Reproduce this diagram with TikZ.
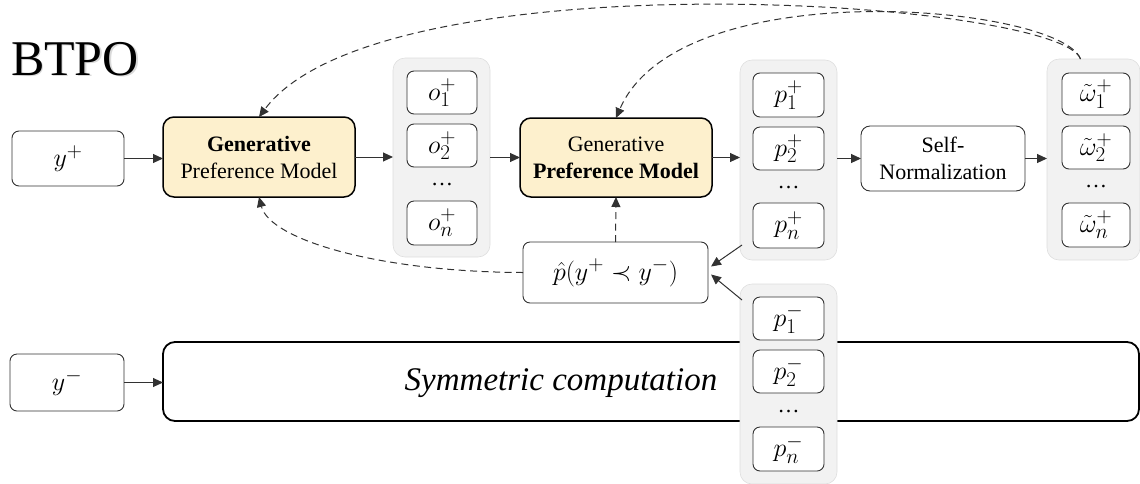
\RequirePackage{fix-cm}
\documentclass[tikz,border=0pt]{standalone}
\usepackage{fontspec}
\setmainfont{Liberation Serif}
\usetikzlibrary{arrows.meta,calc}
\DeclareMathSizes{26}{26}{21}{16}
\definecolor{gpmfill}{RGB}{253,240,205}
\definecolor{grpfill}{RGB}{242,242,242}
\definecolor{grpline}{RGB}{222,222,222}
\definecolor{boxline}{RGB}{50,50,50}
\newcommand\tfnt{\fontsize{22}{27}\selectfont}
\newcommand\mfnt{\fontsize{26}{30}\selectfont}
\begin{document}
\begin{tikzpicture}[x=1pt,y=-1pt,
  every node/.style={inner sep=0pt, outer sep=0pt},
  sz/.style 2 args={minimum width=#1pt, minimum height=#2pt},
  sbox/.style={draw=boxline, line width=0.9pt, rounded corners=7pt, fill=white, font=\mfnt},
  tbox/.style={draw=boxline, line width=0.9pt, rounded corners=9pt, fill=white, font=\tfnt, align=center},
  gpm/.style={draw=black, line width=1.5pt, rounded corners=11pt, fill=gpmfill, font=\tfnt, align=center},
  grp/.style={draw=grpline, line width=0.6pt, rounded corners=12pt, fill=grpfill},
  bigbox/.style={draw=black, line width=1.8pt, rounded corners=12pt, fill=white},
  dotsn/.style={font=\tfnt},
  arr/.style={draw=boxline, line width=1pt, -{Triangle[length=10pt,width=9pt]}},
  darr/.style={arr, dash pattern=on 7pt off 4.5pt}
]
\useasboundingbox (0,0) rectangle (1140,483);

% title
\node[anchor=base west, font=\fontsize{50}{55}\selectfont, text=gray!30] (titleshadow) at (12.5,76.5) {BTPO};
\node[anchor=base west, font=\fontsize{50}{55}\selectfont] (title) at (11,75) {BTPO};

% top row
\node[sbox, sz={112}{55}] (yp) at (68,158.5) {$y^+$};
\node[gpm, sz={192}{80}] (g1) at (259,157) {\textbf{Generative}\\Preference Model};

\node[grp, sz={97}{199}] (og) at (441.5,157.5) {};
\node[sbox, sz={70}{43}] (o1) at (442,92.5) {$o_1^+$};
\node[sbox, sz={70}{43}] (o2) at (442,145.5) {$o_2^+$};
\node[dotsn] (od) at (442,185) {\dots};
\node[sbox, sz={70}{44}] (on) at (442,223) {$o_n^+$};

\node[gpm, sz={192}{79}] (g2) at (616,157.5) {Generative\\\textbf{Preference Model}};

\node[grp, sz={97}{200}] (pg) at (788.5,160) {};
\node[sbox, sz={71}{44}] (p1) at (788.5,95) {$p_1^+$};
\node[sbox, sz={71}{43}] (p2) at (788.5,148.5) {$p_2^+$};
\node[dotsn] (pd) at (788.5,188) {\dots};
\node[sbox, sz={71}{45}] (pn) at (788.5,225.5) {$p_n^+$};

\node[tbox, sz={164}{65}] (sn) at (943,158.5) {Self-\\Normalization};

\node[grp, sz={93}{201}] (wg) at (1093.5,159.5) {};
\node[sbox, sz={68}{42}] (w1) at (1096,94) {$\tilde{\omega}_1^+$};
\node[sbox, sz={68}{43}] (w2) at (1096,147.5) {$\tilde{\omega}_2^+$};
\node[dotsn] (wd) at (1096,187) {\dots};
\node[sbox, sz={68}{44}] (wn) at (1096,225) {$\tilde{\omega}_n^+$};

% middle
\node[sbox, sz={185}{61}] (ph) at (615.5,272.5) {$\hat{p}(y^+ \prec y^-)$};

% bottom row
\node[sbox, sz={114}{57}] (ym) at (67,382.5) {$y^-$};
\node[bigbox, sz={976}{79}] (sym) at (651,381.5) {};
\node[font=\fontsize{33}{38}\selectfont\itshape] (symtxt) at (561,383) {Symmetric computation};

\node[grp, sz={97}{200}] (mg) at (788.5,384) {};
\node[sbox, sz={71}{43}] (m1) at (788.5,318.5) {$p_1^-$};
\node[sbox, sz={71}{43}] (m2) at (788.5,371.5) {$p_2^-$};
\node[dotsn] (md) at (788.5,412) {\dots};
\node[sbox, sz={71}{44}] (mn) at (788.5,449) {$p_n^-$};

% solid arrows
\draw[arr] (yp.east) -- (yp.east -| g1.west);
\draw[arr] (g1.east) -- (g1.east -| og.west);
\draw[arr] (og.east |- g2.west) -- (g2.west);
\draw[arr] (g2.east) -- (g2.east -| pg.west);
\draw[arr] (pg.east |- sn.west) -- (sn.west);
\draw[arr] (sn.east) -- (sn.east -| wg.west);
\draw[arr] (ym.east) -- (ym.east -| sym.west);

\coordinate (pgout) at ($(pg.south west)+(2,-15)$);
\coordinate (mgout) at ($(mg.north west)+(2,16)$);
\coordinate (phin1) at ($(ph.east)+(3,-6)$);
\coordinate (phin2) at ($(ph.east)+(3,2)$);
\draw[arr] (pgout) -- (phin1);
\draw[arr] (mgout) -- (phin2);

% dashed feedback
\coordinate (wt) at ($(wg.north)+(-13,0)$);
\draw[darr] (wt) .. controls (1060,0) and (380,-45) .. (g1.north);
\draw[darr] (wt) .. controls (1060,5) and (680,-30) .. (g2.north);
\draw[darr] (ph.west) .. controls (380,272) and (270,240) .. (g1.south);
\draw[darr] (ph.north) -- (g2.south);
\end{tikzpicture}
\end{document}
